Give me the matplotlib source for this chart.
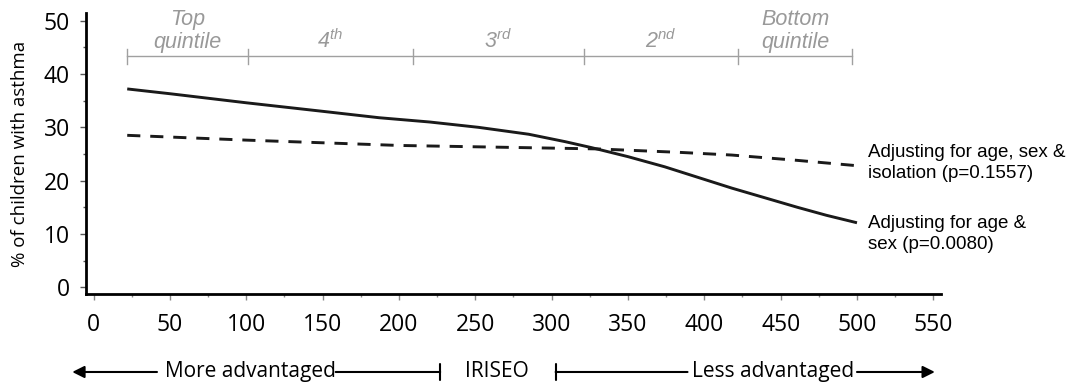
import matplotlib.pyplot as plt
from matplotlib.ticker import MultipleLocator

plt.rcParams['mathtext.fontset'] = 'custom'
plt.rcParams['mathtext.it'] = 'Liberation Sans:italic'
plt.rcParams['mathtext.rm'] = 'Liberation Sans'
plt.rcParams['mathtext.default'] = 'it'

# IRISEO score vs % of children with asthma
iriseo_sex = [22, 50, 100, 150, 187, 220, 252, 285, 309, 326, 350, 374, 418, 461, 480, 500]
asthma_sex = [37.2, 36.3, 34.6, 33.0, 31.8, 31.0, 30.0, 28.7, 27.3, 26.2, 24.5, 22.6, 18.6, 15.0, 13.5, 12.1]

iriseo_iso = [22, 100, 200, 300, 330, 384, 418, 461, 500]
asthma_iso = [28.5, 27.6, 26.6, 26.1, 25.95, 25.3, 24.8, 23.8, 22.8]

quintile_edges = [22, 101, 209, 321, 422, 497]
quintile_labels = ['Top\nquintile', '4$^{th}$', '3$^{rd}$', '2$^{nd}$', 'Bottom\nquintile']
quintile_y = 43.3

label_sex = 'Adjusting for age &\nsex (p=0.0080)'
label_iso = 'Adjusting for age, sex &\nisolation (p=0.1557)'

fig = plt.figure(figsize=(10.75, 3.84), dpi=100)
ax = fig.add_axes([0.080, 0.2331, 0.7953, 0.7339])

line_col = '#1a1a1a'
ax.plot(iriseo_sex, asthma_sex, color=line_col, lw=2.1, solid_capstyle='butt')
ax.plot(iriseo_iso, asthma_iso, color=line_col, lw=2.1, dashes=(4.5, 3.4))

ax.set_xlim(-5, 555)
ax.set_ylim(-1.35, 51.5)
ax.xaxis.set_major_locator(MultipleLocator(50))
ax.xaxis.set_minor_locator(MultipleLocator(25))
ax.yaxis.set_major_locator(MultipleLocator(10))
ax.yaxis.set_minor_locator(MultipleLocator(5))

for s in ['top', 'right']:
    ax.spines[s].set_visible(False)
for s in ['left', 'bottom']:
    ax.spines[s].set_linewidth(2.0)
    ax.spines[s].set_color('black')

ax.tick_params(axis='x', which='major', length=4, width=1, color='#888888', pad=9)
ax.tick_params(axis='x', which='minor', length=2.5, width=1, color='#888888')
ax.tick_params(axis='y', which='major', length=4.5, width=1, color='#555555', pad=7)
ax.tick_params(axis='y', which='minor', length=2.5, width=1, color='#555555')
for lab in ax.get_xticklabels() + ax.get_yticklabels():
    lab.set_fontfamily('Open Sans')
    lab.set_fontsize(16.5)

ax.set_ylabel('% of children with asthma', family='Open Sans', size=13.5)
ax.yaxis.set_label_coords(-0.067, 0.5)

# quintile bar
grey = '#a0a0a0'
ax.plot([quintile_edges[0], quintile_edges[-1]], [quintile_y, quintile_y], color=grey, lw=1)
for e in quintile_edges:
    ax.plot([e, e], [quintile_y - 1.4, quintile_y + 1.4], color=grey, lw=1)
for i, lab in enumerate(quintile_labels):
    mid = (quintile_edges[i] + quintile_edges[i + 1]) / 2
    ax.text(mid, 44.0, lab, ha='center', va='bottom', color='#999999',
            style='italic', family='Liberation Sans', size=15.5, linespacing=1.12)

# line labels
ax.text(507, 23.3, label_iso, ha='left', va='center', family='Liberation Sans', size=13.5,
        linespacing=1.3, clip_on=False)
ax.text(507, 10.0, label_sex, ha='left', va='center', family='Liberation Sans', size=13.5,
        linespacing=1.3, clip_on=False)

# bottom direction annotation
tr = ax.get_xaxis_transform()
yrow = -0.275
bfont = dict(family='Open Sans', size=15, color='black')
arrow_head = dict(arrowstyle='-|>', color='black', lw=1.5, mutation_scale=18,
                  shrinkA=0, shrinkB=0)
bar_end = dict(arrowstyle='-[, widthB=0.6, lengthB=0', color='black', lw=1.5,
               mutation_scale=10, shrinkA=0, shrinkB=0)
ax.annotate('', xy=(-14, yrow), xytext=(41.5, yrow), xycoords=tr, textcoords=tr,
            arrowprops=arrow_head, annotation_clip=False)
ax.text(102.5, yrow, 'More advantaged', transform=tr, ha='center', va='center', **bfont)
ax.annotate('', xy=(227, yrow), xytext=(158.5, yrow), xycoords=tr, textcoords=tr,
            arrowprops=bar_end, annotation_clip=False)
ax.text(264.4, yrow, 'IRISEO', transform=tr, ha='center', va='center', **bfont)
ax.annotate('', xy=(302.6, yrow), xytext=(389, yrow), xycoords=tr, textcoords=tr,
            arrowprops=bar_end, annotation_clip=False)
ax.text(445, yrow, 'Less advantaged', transform=tr, ha='center', va='center', **bfont)
ax.annotate('', xy=(551, yrow), xytext=(500, yrow), xycoords=tr, textcoords=tr,
            arrowprops=arrow_head, annotation_clip=False)

fig.savefig('out.png', dpi=100)
